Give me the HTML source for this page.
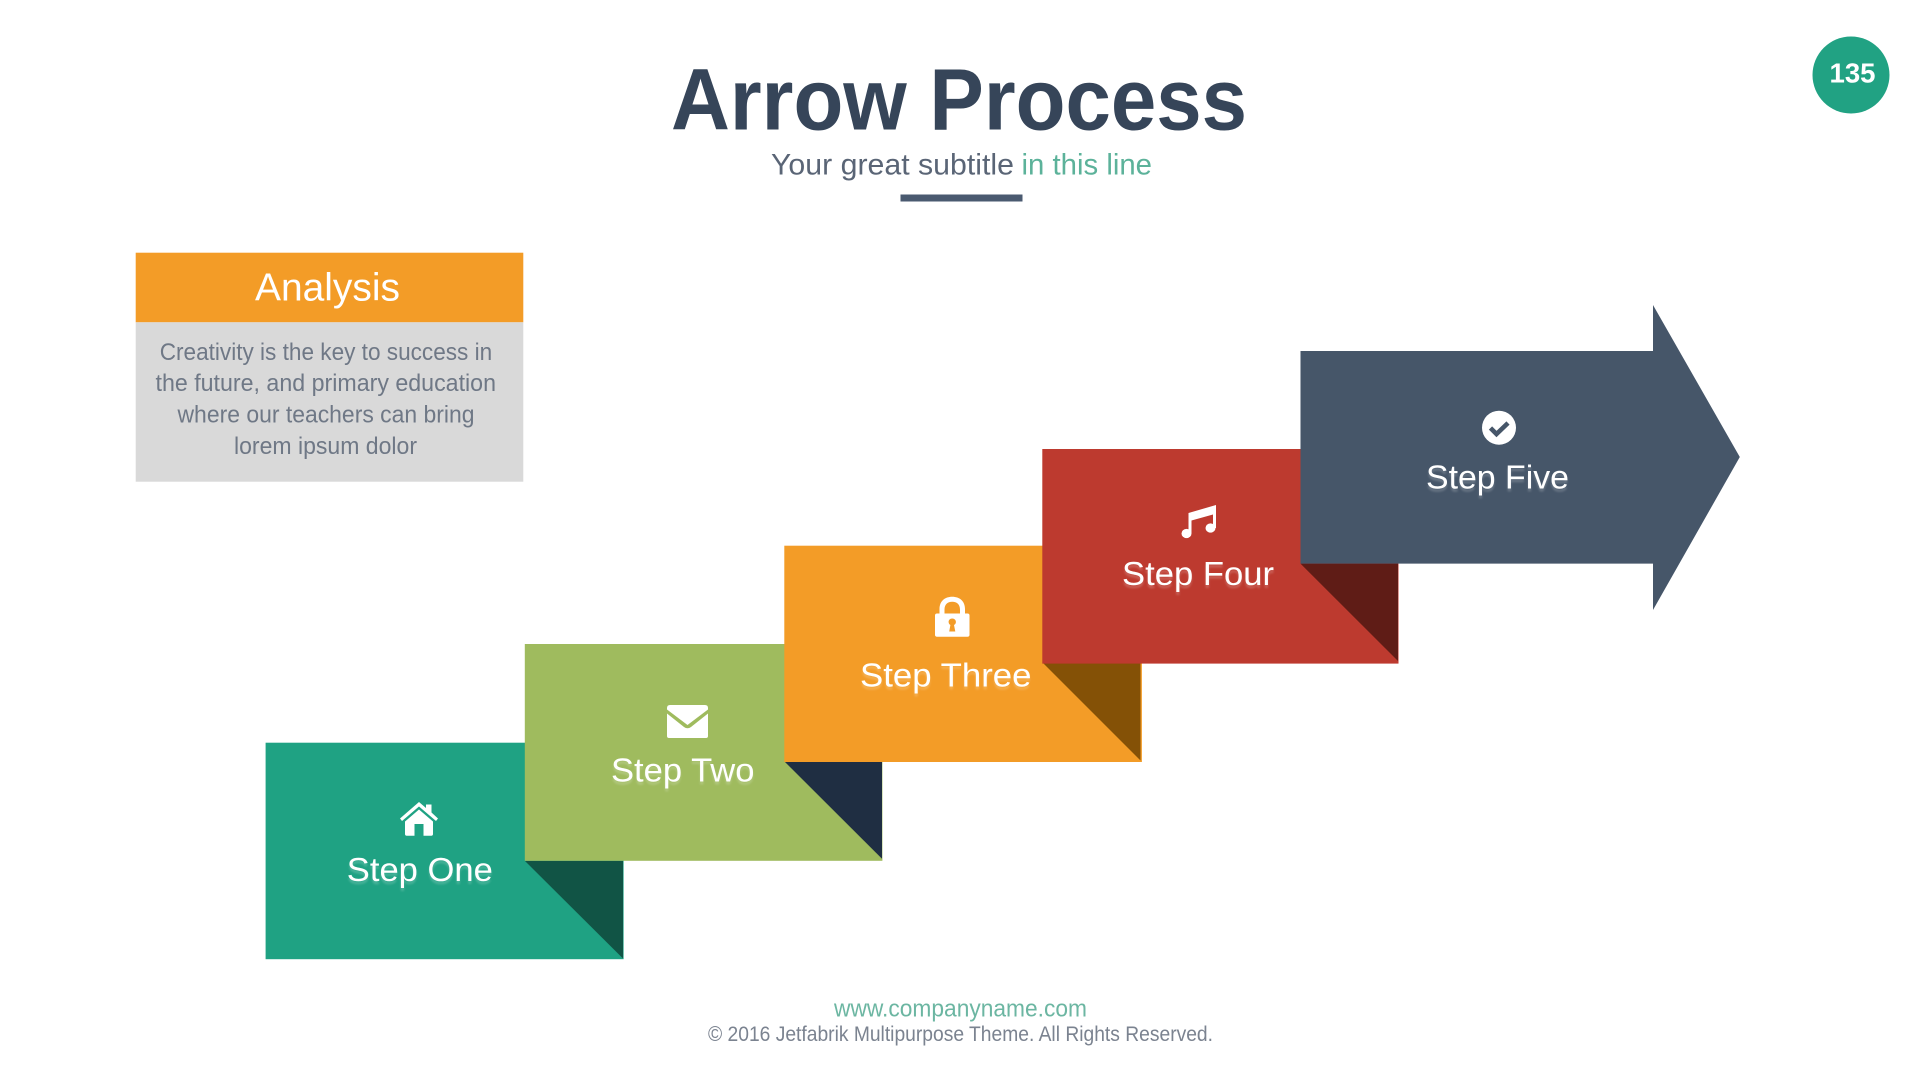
<!DOCTYPE html>
<html lang="en">
<head>
<meta charset="utf-8">
<title>Arrow Process</title>
<style>
html,body{margin:0;padding:0;background:#fff;width:1920px;height:1080px;overflow:hidden}
svg{display:block}
text{font-family:"Liberation Sans",sans-serif}
.step{font-size:33px;fill:#fff;filter:drop-shadow(0 3px 1px rgba(255,255,255,.2))}
.body{font-size:24px;fill:#6f7886}
</style>
</head>
<body>
<svg width="1920" height="1080" viewBox="0 0 1920 1080" xmlns="http://www.w3.org/2000/svg">
<rect width="1920" height="1080" fill="#fff"/>

<!-- Title -->
<text x="671" y="129.5" font-size="87" font-weight="700" fill="#364559" textLength="576" lengthAdjust="spacingAndGlyphs">Arrow Process</text>
<text x="771" y="174.7" font-size="30" fill="#5a6576" textLength="243" lengthAdjust="spacingAndGlyphs">Your great subtitle</text>
<text x="1021.5" y="174.7" font-size="30" fill="#5cb29a" textLength="130.5" lengthAdjust="spacingAndGlyphs">in this line</text>
<rect x="900.5" y="194.5" width="122" height="7" fill="#4a5a70"/>

<!-- Badge -->
<circle cx="1851" cy="75" r="38.5" fill="#21a283"/>
<text x="1829.5" y="82.3" font-size="28" font-weight="700" fill="#fff" textLength="46" lengthAdjust="spacingAndGlyphs">135</text>

<!-- Analysis card -->
<rect x="135.7" y="252.7" width="387.6" height="69.6" fill="#f39c27"/>
<rect x="135.7" y="322.3" width="387.6" height="159.4" fill="#d9d9d9"/>
<text x="255" y="300.7" font-size="39" fill="#fff" textLength="145" lengthAdjust="spacingAndGlyphs">Analysis</text>
<text class="body" x="159.7" y="360" textLength="332.5" lengthAdjust="spacingAndGlyphs">Creativity is the key to success in</text>
<text class="body" x="155.5" y="391" textLength="340.5" lengthAdjust="spacingAndGlyphs">the future, and primary education</text>
<text class="body" x="177.5" y="422.3" textLength="297" lengthAdjust="spacingAndGlyphs">where our teachers can bring</text>
<text class="body" x="234" y="454" textLength="183" lengthAdjust="spacingAndGlyphs">lorem ipsum dolor</text>

<!-- Step One -->
<rect x="265.6" y="742.7" width="358" height="216.5" fill="#1fa283"/>
<polygon points="525,861 623,861 623,958.5" fill="#115445"/>
<!-- Step Two -->
<rect x="524.8" y="644" width="357.6" height="216.8" fill="#9fbb5e"/>
<polygon points="785,762 882,762 882,858.8" fill="#1f2e42"/>
<!-- Step Three -->
<rect x="784.3" y="545.7" width="357.6" height="216.3" fill="#f39c27"/>
<polygon points="1043.5,663.5 1140.5,663.5 1140.5,760.5" fill="#845106"/>
<!-- Step Four -->
<rect x="1042.3" y="449" width="356.2" height="214.6" fill="#bd3a2f"/>
<polygon points="1300.5,563.6 1398,563.6 1398,661" fill="#5f1c16"/>
<!-- Step Five arrow -->
<polygon points="1300.5,351 1653,351 1653,305 1739.8,457 1653,610 1653,563.6 1300.5,563.6" fill="#465669"/>

<!-- Labels -->
<text class="step" x="346.8" y="881" textLength="146" lengthAdjust="spacingAndGlyphs">Step One</text>
<text class="step" x="611" y="781.5" textLength="143.5" lengthAdjust="spacingAndGlyphs">Step Two</text>
<text class="step" x="860" y="686.5" textLength="171.5" lengthAdjust="spacingAndGlyphs">Step Three</text>
<text class="step" x="1122" y="584.8" textLength="152" lengthAdjust="spacingAndGlyphs">Step Four</text>
<text class="step" x="1426" y="488.3" textLength="143" lengthAdjust="spacingAndGlyphs">Step Five</text>

<!-- House icon -->
<g fill="#fff">
  <polygon points="419,802 426,808 426,804.5 431.5,804.5 431.5,812.5 438,818.5 436,821 419,806.5 402,821 400,818.5"/>
  <path d="M405,821.5 419,809.5 433,821.5 V834 Q433,835.7 431.3,835.7 H423.5 V824 H414.5 V835.7 H406.7 Q405,835.7 405,834 Z"/>
</g>

<!-- Envelope icon -->
<g fill="#fff">
  <path d="M667,708 Q667,705 670,705 H705 Q708,705 708,708 V709.5 L687.5,725 L667,709.5 Z"/>
  <path d="M667,713.5 L684,727 Q687.5,729.5 691,727 L708,713.5 V736 Q708,738 706,738 H669 Q667,738 667,736 Z"/>
</g>

<!-- Lock icon -->
<path fill="#fff" fill-rule="evenodd" d="M939.5,613.5 V609 C939.5,601 945,596.7 952.2,596.7 C959.5,596.7 965,601 965,609 V613.5 H967.5 Q969.5,613.5 969.5,615.5 V634.7 Q969.5,636.7 967.5,636.7 H937 Q935,636.7 935,634.7 V615.5 Q935,613.5 937,613.5 Z M944.5,613.5 H960 V609.5 C960,604.5 957,601.7 952.2,601.7 C947.5,601.7 944.5,604.5 944.5,609.5 Z M952.2,618.5 C950,618.5 948.6,620 948.6,622 C948.6,623.4 949.4,624.5 950.4,625 L949.2,631.5 H955.3 L954,625 C955.1,624.5 955.9,623.4 955.9,622 C955.9,620 954.4,618.5 952.2,618.5 Z"/>

<!-- Music icon -->
<g fill="#fff">
  <ellipse cx="1186.5" cy="533.5" rx="5" ry="4.6"/>
  <ellipse cx="1210.5" cy="528" rx="5" ry="4.6"/>
  <path d="M1188.5,533.5 V513 L1216,505 V528 H1213 V514.5 L1191.5,520.5 V533.5 Z"/>
</g>

<!-- Check icon -->
<circle cx="1499" cy="427.7" r="17" fill="#fff"/>
<polyline points="1490.5,428 1496.5,434 1508,423" fill="none" stroke="#465669" stroke-width="4.6"/>

<!-- Footer -->
<text x="834" y="1016.7" font-size="24" fill="#6cb6a2" textLength="253" lengthAdjust="spacingAndGlyphs">www.companyname.com</text>
<text x="708" y="1041" font-size="21" fill="#7b8390" textLength="505" lengthAdjust="spacingAndGlyphs">© 2016 Jetfabrik Multipurpose Theme. All Rights Reserved.</text>
</svg>
</body>
</html>
